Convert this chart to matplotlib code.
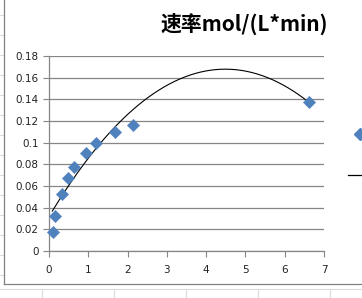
import numpy as np
import matplotlib
matplotlib.use('Agg')
import matplotlib.pyplot as plt
from matplotlib.lines import Line2D

# 数据点
x_vals = [0.09, 0.16, 0.33, 0.49, 0.64, 0.93, 1.2, 1.69, 2.13, 6.63]
y_vals = [0.018, 0.0325, 0.053, 0.0676, 0.0774, 0.0906, 0.0998, 0.110, 0.1164, 0.1373]
# 趋势线上读取的点 (二次多项式)
trend_x = [0.085, 0.49, 0.92, 1.21, 1.68, 1.98, 2.44, 2.87, 3.42, 4.18, 4.86, 5.63, 6.6]
trend_y = [0.0378, 0.0579, 0.081, 0.0978, 0.113, 0.127, 0.139, 0.150, 0.160, 0.167, 0.167, 0.159, 0.1378]
title = '速率mol/(L*min)'
x_ticks = [0, 1, 2, 3, 4, 5, 6, 7]
y_ticks = [0, 0.02, 0.04, 0.06, 0.08, 0.1, 0.12, 0.14, 0.16, 0.18]
y_labels = ['0', '0.02', '0.04', '0.06', '0.08', '0.1', '0.12', '0.14', '0.16', '0.18']

fig = plt.figure(figsize=(3.62, 2.98), dpi=100)
fig.patch.set_facecolor('white')

# 表格背景线 (excel单元格)
W, H = 362.0, 298.0
cell = '#dcdcdc'
fig.add_artist(Line2D([0, 1], [1 - 289 / H, 1 - 289 / H], color=cell, lw=0.8))
for xc in [42, 114, 186, 258, 330]:
    fig.add_artist(Line2D([xc / W, xc / W], [0, 1 - 289 / H], color=cell, lw=0.8))
for yc in range(15, 285, 20):
    fig.add_artist(Line2D([0, 3.5 / W], [1 - yc / H, 1 - yc / H], color=cell, lw=0.8))
# 图表边框
fig.add_artist(Line2D([4 / W, 4 / W], [1 - 284 / H, 1], color='#808080', lw=0.9))
fig.add_artist(Line2D([4 / W, 1], [1 - 284 / H, 1 - 284 / H], color='#808080', lw=0.9))

ax = fig.add_axes([49 / W, 1 - 251 / H, 275 / W, 195 / H])

# 趋势线
coef = np.polyfit(trend_x, trend_y, 2)
xx = np.linspace(trend_x[0], trend_x[-1], 200)
ax.plot(xx, np.polyval(coef, xx), color='black', lw=0.8, zorder=3)

ax.scatter(x_vals, y_vals, marker='D', s=40, color='#4f81bd', edgecolors='#4f81bd',
           linewidths=0.3, zorder=4, clip_on=False)

ax.set_xlim(0, 7)
ax.set_ylim(0, 0.18)
ax.set_xticks(x_ticks)
ax.set_yticks(y_ticks)
ax.set_yticklabels(y_labels)
ax.yaxis.grid(True, color='#868686', lw=0.9)
ax.set_axisbelow(True)
for s in ['top', 'right']:
    ax.spines[s].set_visible(False)
for s in ['left', 'bottom']:
    ax.spines[s].set_color('#868686')
    ax.spines[s].set_linewidth(0.9)
ax.tick_params(axis='both', direction='out', length=4, color='#868686', labelsize=7.5,
               labelcolor='#222222')
ax.tick_params(axis='x', pad=6)

fig.text(244 / W, 1 - 24 / H, title, ha='center', va='center', fontsize=15, fontweight='bold',
         family=['Noto Sans CJK SC', 'DejaVu Sans'])

# 右侧被裁掉的图例
fig.add_artist(Line2D([360 / W], [1 - 134 / H], marker='D', markersize=6, color='#4f81bd', ls=''))
fig.add_artist(Line2D([348 / W, 1], [1 - 175 / H, 1 - 175 / H], color='black', lw=0.9))

fig.savefig('out.png', dpi=100)
